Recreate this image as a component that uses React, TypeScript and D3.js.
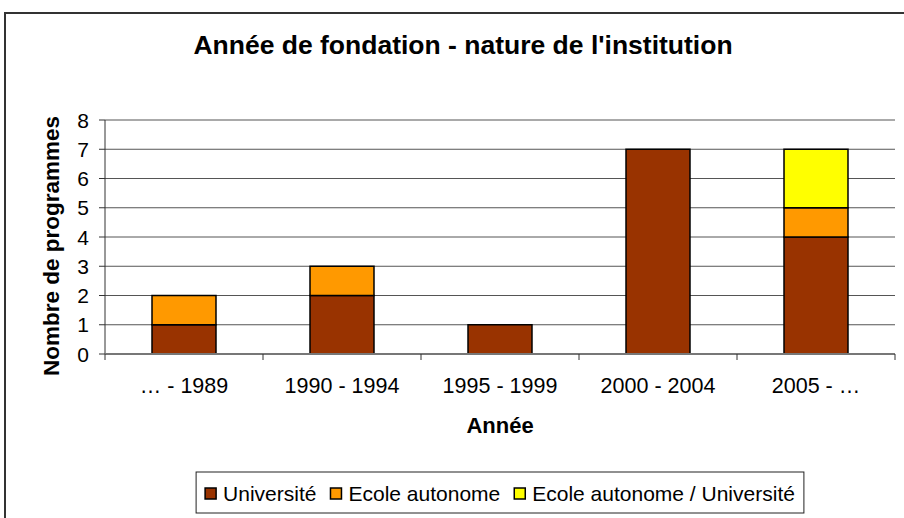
import React, { useLayoutEffect, useRef, useState } from 'react'
import * as d3 from 'd3'

// data
const categories = ['… - 1989', '1990 - 1994', '1995 - 1999', '2000 - 2004', '2005 - …']
const universite = [1, 2, 1, 7, 4]
const ecoleAutonome = [1, 1, 0, 0, 1]
const ecoleUniversite = [0, 0, 0, 0, 2]
const seriesNames = ['Université', 'Ecole autonome', 'Ecole autonome / Université']
const seriesColors = ['#993300', '#FF9900', '#FFFF00']
const yTicks = [0, 1, 2, 3, 4, 5, 6, 7, 8]

const W = 904
const H = 518
const margin = { left: 105, right: 9, top: 120, bottom: 164 }
const font = '"Liberation Sans", Arial, sans-serif'

const Legend = ({ x, y }: { x: number; y: number }) => {
  const refs = useRef<(SVGTextElement | null)[]>([])
  const [widths, setWidths] = useState<number[]>(seriesNames.map(() => 100))

  useLayoutEffect(() => {
    setWidths(refs.current.map((t) => (t ? t.getComputedTextLength() : 100)))
  }, [])

  const sw = 11
  const gapText = 7
  const gapItem = 14
  const pad = 9
  let cursor = pad
  const items = seriesNames.map((name, i) => {
    const pos = cursor
    cursor += sw + gapText + widths[i] + gapItem
    return { name, pos, i }
  })
  const boxW = cursor - gapItem + pad
  const boxH = 41

  return (
    <g transform={`translate(${x - boxW / 2},${y})`}>
      <rect width={boxW} height={boxH} fill="white" stroke="#222" strokeWidth={1} />
      {items.map(({ name, pos, i }) => (
        <g key={name} transform={`translate(${pos},0)`}>
          <rect x={0} y={boxH / 2 - sw / 2 + 1} width={sw} height={sw} fill={seriesColors[i]} stroke="#000" strokeWidth={1.5} />
          <text
            ref={(el) => (refs.current[i] = el)}
            x={sw + gapText}
            y={boxH / 2 + 8}
            fontSize={21}
            fontFamily={font}
            fill="#000"
          >
            {name}
          </text>
        </g>
      ))}
    </g>
  )
}

const App = () => {
  const x0 = margin.left
  const x1 = W - margin.right
  const y0 = H - margin.bottom
  const y1 = margin.top

  const x = d3.scaleBand<string>().domain(categories).range([x0, x1]).paddingInner(0.595).paddingOuter(0.2975)
  const y = d3.scaleLinear().domain([0, 8]).range([y0, y1])

  const rows = categories.map((c, i) => ({
    cat: c,
    [seriesNames[0]]: universite[i],
    [seriesNames[1]]: ecoleAutonome[i],
    [seriesNames[2]]: ecoleUniversite[i],
  }))
  const stacked = d3.stack<any>().keys(seriesNames)(rows)
  const step = x.step()
  const boundaries = d3.range(categories.length + 1).map((i) => x0 + i * step)

  return (
    <svg width={W} height={H} style={{ position: 'absolute', left: 0, top: 0, background: 'white' }}>
      <rect x={5} y={13} width={W + 20} height={H + 20} fill="white" stroke="#333" strokeWidth={2} />

      <text x={463} y={54} textAnchor="middle" fontSize={26.5} fontWeight="bold" fontFamily={font}>
        Année de fondation - nature de l'institution
      </text>

      {/* gridlines */}
      {yTicks.filter((t) => t > 0).map((t) => (
        <line key={t} x1={x0} x2={x1} y1={y(t)} y2={y(t)} stroke="#555" strokeWidth={1} />
      ))}

      {/* y axis */}
      <line x1={x0} x2={x0} y1={y1} y2={y0} stroke="#333" strokeWidth={1} />
      {yTicks.map((t) => (
        <g key={t}>
          <line x1={x0 - 6} x2={x0} y1={y(t)} y2={y(t)} stroke="#333" />
          <text x={x0 - 16} y={y(t) + 7.5} textAnchor="end" fontSize={21} fontFamily={font}>
            {t}
          </text>
        </g>
      ))}

      {/* bars */}
      {stacked.map((s, si) =>
        s.map((d, i) =>
          d[1] - d[0] > 0 ? (
            <rect
              key={`${si}-${i}`}
              x={x(categories[i])}
              y={y(d[1])}
              width={x.bandwidth()}
              height={y(d[0]) - y(d[1])}
              fill={seriesColors[si]}
              stroke="#000"
              strokeWidth={1.5}
            />
          ) : null
        )
      )}

      {/* x axis */}
      <line x1={x0} x2={x1} y1={y0} y2={y0} stroke="#777" strokeWidth={2} />
      {boundaries.map((bx, i) => (
        <line key={i} x1={bx} x2={bx} y1={y0} y2={y0 + 6} stroke="#333" />
      ))}
      {categories.map((c) => (
        <text key={c} x={x(c)! + x.bandwidth() / 2} y={393} textAnchor="middle" fontSize={21.5} fontFamily={font}>
          {c}
        </text>
      ))}

      <text x={(x0 + x1) / 2} y={433} textAnchor="middle" fontSize={22} fontWeight="bold" fontFamily={font}>
        Année
      </text>
      <text
        transform={`translate(59,${(y0 + y1) / 2 + 9}) rotate(-90)`}
        textAnchor="middle"
        fontSize={22.5}
        fontWeight="bold"
        fontFamily={font}
      >
        Nombre de programmes
      </text>

      <Legend x={500} y={472} />
    </svg>
  )
}

export default App
